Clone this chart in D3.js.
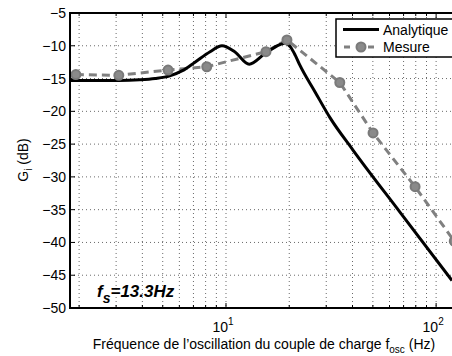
<!DOCTYPE html>
<html><head><meta charset="utf-8">
<script src="https://cdn.jsdelivr.net/npm/d3@7"></script>
<style>
body{margin:0;background:#fff;}
svg{display:block;font-family:"Liberation Sans",Arial,Helvetica,sans-serif;}
</style></head>
<body><svg id="c" width="452" height="356"></svg>
<script>
// Analytique (model) curve: frequency (Hz) and gain (dB)
const anaFreq = [1.81, 3.09, 3.89, 4.6, 5.4, 6.2, 7.12, 8.4, 9.57, 11.0, 12.9, 15.3, 18.1, 19.1, 20.3, 21.4, 22.5, 26.5, 31.3, 40.2, 67.4, 119];
const anaGain = [-15.3, -15.3, -15.2, -15.0, -14.6, -13.8, -12.5, -10.9, -10.0, -10.9, -12.8, -11.2, -9.8, -9.6, -10.2, -11.5, -13.0, -17.0, -21.0, -25.9, -35.4, -45.8];
// Mesure (measurement) points
const mesFreq = [1.93, 3.09, 5.3, 8.1, 15.5, 19.5, 34.8, 50.1, 79.4, 122];
const mesGain = [-14.4, -14.5, -13.7, -13.2, -10.9, -9.1, -15.6, -23.3, -31.5, -39.8];
// axis ticks
const yTicks = [-50, -45, -40, -35, -30, -25, -20, -15, -10, -5];
const xMinor = [2,3,4,5,6,7,8,9,20,30,40,50,60,70,80,90];
const xMajor = [10, 100];
const xMajorExp = ["1", "2"];
const seriesNames = ["Analytique", "Mesure"];

const FS = 14;
const svg = d3.select("#c");
const L = 70, R = 452, T = 13, B = 308;
const x = d3.scaleLog().domain([1.81, 119]).range([L, R]);
const y = d3.scaleLinear().domain([-50, -5]).range([B, T]);

// grid
const grid = svg.append("g").attr("stroke", "#444").attr("stroke-width", 0.8).attr("stroke-dasharray", "1,3").attr("fill", "none");
yTicks.forEach(v => { if (v > -50 && v < -5) grid.append("line").attr("x1", L).attr("x2", R).attr("y1", y(v)).attr("y2", y(v)); });
xMinor.concat(xMajor).forEach(v => grid.append("line").attr("x1", x(v)).attr("x2", x(v)).attr("y1", T).attr("y2", B));

// ticks
const tk = svg.append("g").attr("stroke", "#000").attr("stroke-width", 1);
xMinor.forEach(v => {
  tk.append("line").attr("x1", x(v)).attr("x2", x(v)).attr("y1", B).attr("y2", B - 3);
  tk.append("line").attr("x1", x(v)).attr("x2", x(v)).attr("y1", T).attr("y2", T + 3);
});
xMajor.forEach(v => {
  tk.append("line").attr("x1", x(v)).attr("x2", x(v)).attr("y1", B).attr("y2", B - 5);
  tk.append("line").attr("x1", x(v)).attr("x2", x(v)).attr("y1", T).attr("y2", T + 5);
});
yTicks.forEach(v => tk.append("line").attr("x1", L).attr("x2", L + 5).attr("y1", y(v)).attr("y2", y(v)));

// data
svg.append("clipPath").attr("id", "pc").append("rect").attr("x", L).attr("y", T).attr("width", R - L + 10).attr("height", B - T);
const anaData = anaFreq.map((f, i) => [f, anaGain[i]]);
const mesData = mesFreq.map((f, i) => [f, mesGain[i]]);
const line = d3.line().x(d => x(d[0])).y(d => y(d[1]));
svg.append("path").datum(mesData).attr("d", line).attr("fill", "none").attr("stroke", "#808080").attr("stroke-width", 3).attr("stroke-dasharray", "8,5");
svg.append("path").datum(anaData).attr("d", line.curve(d3.curveMonotoneX)).attr("fill", "none").attr("stroke", "#000").attr("stroke-width", 3).attr("clip-path", "url(#pc)");
svg.append("g").selectAll("circle").data(mesData).join("circle")
  .attr("cx", d => x(d[0])).attr("cy", d => y(d[1])).attr("r", 4.5)
  .attr("fill", "#8a8a8a").attr("stroke", "#7a7a7a").attr("stroke-width", 2);

// axes box lines
const ax = svg.append("g").attr("stroke", "#000").attr("stroke-width", 2);
ax.append("line").attr("x1", L).attr("x2", L).attr("y1", T).attr("y2", B + 1);
ax.append("line").attr("x1", L - 1).attr("x2", R).attr("y1", B).attr("y2", B);
ax.append("line").attr("x1", L - 1).attr("x2", R).attr("y1", T).attr("y2", T);

// y tick labels
svg.append("g").selectAll("text").data(yTicks).join("text")
  .attr("x", L - 4).attr("y", d => y(d) + 5).attr("text-anchor", "end").attr("font-size", FS)
  .text(d => d3.format("")(d).replace("-", "\u2212"));

// x tick labels
xMajor.forEach((v, i) => {
  const t = svg.append("text").attr("x", x(v) - 3).attr("y", 332).attr("text-anchor", "middle").attr("font-size", FS);
  t.append("tspan").text("10");
  t.append("tspan").attr("dy", -7).attr("font-size", 10).text(xMajorExp[i]);
});

// axis labels
const xl = svg.append("text").attr("x", 264).attr("y", 349).attr("text-anchor", "middle").attr("font-size", FS);
xl.append("tspan").text("Fréquence de l\u2019oscillation du couple de charge f");
xl.append("tspan").attr("dy", 4).attr("font-size", 10).text("osc");
xl.append("tspan").attr("dy", -4).text(" (Hz)");

const yl = svg.append("text").attr("transform", "translate(28,160) rotate(-90)").attr("text-anchor", "middle").attr("font-size", FS);
yl.append("tspan").text("G");
yl.append("tspan").attr("dy", 4).attr("font-size", 10).text("i");
yl.append("tspan").attr("dy", -4).text(" (dB)");

// annotation
const an = svg.append("text").attr("x", 97).attr("y", 297).attr("font-size", 17).attr("font-weight", "bold").attr("font-style", "italic");
an.append("tspan").text("f");
an.append("tspan").attr("dy", 6).attr("font-size", 14).text("s");
an.append("tspan").attr("dy", -6).text("=13.3Hz");

// legend
const lg = svg.append("g");
lg.append("rect").attr("x", 336).attr("y", 19).attr("width", 130).attr("height", 38).attr("fill", "#fff").attr("stroke", "#000").attr("stroke-width", 1.5);
lg.append("line").attr("x1", 343).attr("x2", 379).attr("y1", 29.5).attr("y2", 29.5).attr("stroke", "#000").attr("stroke-width", 3);
lg.append("line").attr("x1", 343).attr("x2", 379).attr("y1", 47).attr("y2", 47).attr("stroke", "#808080").attr("stroke-width", 3).attr("stroke-dasharray", "6,6").attr("stroke-dashoffset", -1);
lg.append("circle").attr("cx", 361).attr("cy", 47).attr("r", 4.5).attr("fill", "#8a8a8a").attr("stroke", "#7a7a7a").attr("stroke-width", 2);
lg.append("text").attr("x", 383).attr("y", 34.5).attr("font-size", FS).text(seriesNames[0]);
lg.append("text").attr("x", 383).attr("y", 52).attr("font-size", FS).text(seriesNames[1]);
</script></body></html>
